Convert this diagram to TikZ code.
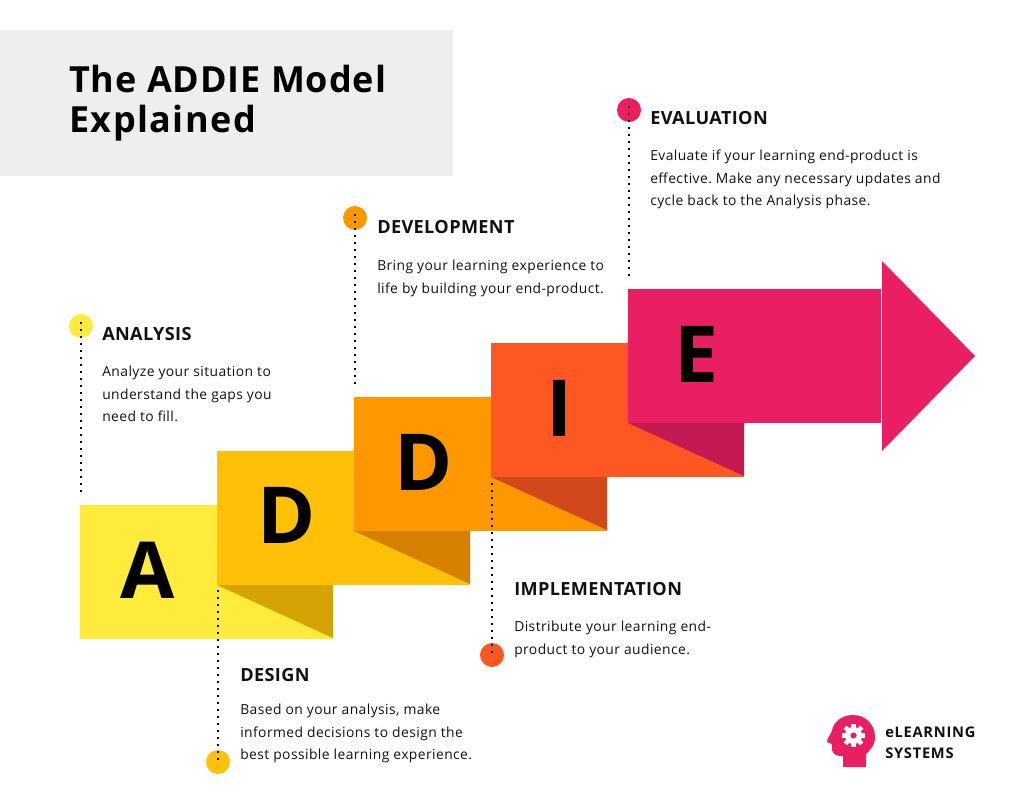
\documentclass[tikz,border=0pt]{standalone}
\usepackage{fontspec}
\setmainfont{Open Sans}
\newfontfamily\bodyfont[LetterSpace=3]{Open Sans}
\newfontfamily\headfont[LetterSpace=2,BoldFont={Open Sans Bold}]{Open Sans}
\newfontfamily\titleA[LetterSpace=2.5]{Open Sans}
\newfontfamily\titleB[LetterSpace=4]{Open Sans}
\newfontfamily\logofont[LetterSpace=5]{Open Sans}
\definecolor{cA}{HTML}{FFEB3B}
\definecolor{cD}{HTML}{FFC107}
\definecolor{cDD}{HTML}{FF9800}
\definecolor{cI}{HTML}{FF5722}
\definecolor{cE}{HTML}{E91E63}
\definecolor{fA}{HTML}{D6A304}
\definecolor{fD}{HTML}{D68000}
\definecolor{fI}{HTML}{D2481D}
\definecolor{fE}{HTML}{C41A53}
\definecolor{ink}{HTML}{111111}
\definecolor{panel}{HTML}{EEEEEE}
\tikzset{
  x=0.75pt,y=-0.75pt,
  block/.style={minimum width=189.75pt,minimum height=100.5pt,inner sep=0,outer sep=0,anchor=north west},
  bigletter/.style={font=\fontsize{59}{59}\selectfont\bfseries,text=black,inner sep=0,anchor=base},
  head/.style={font=\headfont\fontsize{13.6}{16}\selectfont\bfseries,text=ink,inner sep=0,anchor=base west},
  body/.style={font=\bodyfont\frenchspacing\fontsize{10.4}{16.9}\selectfont,text=ink,inner sep=0,anchor=north west,align=left},
  dot/.style={circle,minimum size=18pt,inner sep=0},
  dotted line/.style={line width=1.5pt,black,dash pattern=on 1.5pt off 3.75pt},
  titletext/.style={font=#1\fontsize{27}{30}\selectfont\bfseries,text=black,inner sep=0,anchor=base west},
}
\begin{document}
\begin{tikzpicture}
\useasboundingbox (0,0) rectangle (1034,792);
\fill[white] (0,0) rectangle (1034,792);
\node[fill=panel,minimum width=339.75pt,minimum height=109.5pt,inner sep=0,anchor=north west] (panel) at (0,30) {};
\node[titletext=\titleA] (t1) at (69,92) {The ADDIE Model};
\node[titletext=\titleB] (t2) at (69,132) {Explained};
% blocks
\node[block,fill=cA] (bA) at (80,505) {};
\node[block,fill=cD] (bD) at (217,451) {};
\fill[fA] (217,585) -- (333,585) -- (333,638) -- cycle;
\node[block,fill=cDD] (bDD) at (354,397) {};
\fill[fD] (354,531) -- (470,531) -- (470,584) -- cycle;
\node[block,fill=cI] (bI) at (491,343) {};
\fill[fI] (491,477) -- (607,477) -- (607,530) -- cycle;
\node[block,fill=cE] (bE) at (628,289) {};
\fill[fE] (628,423) -- (744,423) -- (744,476) -- cycle;
\fill[cE] (882,261) -- (975,356) -- (882,451) -- cycle;
\node[bigletter] (lA) at (148,598) {A};
\node[bigletter] (lD) at (287,543) {D};
\node[bigletter] (lDD) at (424,490) {D};
\node[bigletter] (lI) at (560,436) {I};
\node[bigletter] (lE) at (697,382) {E};
% markers
\node[dot,fill=cA] (mA) at (81,326) {};
\node[dot,fill=cD] (mD) at (218,762) {};
\node[dot,fill=cDD] (mDD) at (355,218) {};
\node[dot,fill=cI] (mI) at (492,655) {};
\node[dot,fill=cE] (mE) at (629,110) {};
\coordinate (eA) at (81,493);
\coordinate (eD) at (218,588);
\coordinate (eDD) at (355,385);
\coordinate (eI) at (492,480);
\coordinate (eE) at (629,277);
\draw[dotted line] (mA.center) ++(0,-4) -- (eA);
\draw[dotted line] (mD.center) ++(0,-2) -- (eD);
\draw[dotted line] (mDD.center) ++(0,-4) -- (eDD);
\draw[dotted line] (mI.center) ++(0,-2) -- (eI);
\draw[dotted line] (mE.center) ++(0,-4) -- (eE);
% text
\node[head] (hA) at (102,340) {ANALYSIS};
\node[body] (tA) at (102,366) {Analyze your situation to\\understand the gaps you\\need to fill.};
\node[head] (hD) at (240,681) {DESIGN};
\node[body] (tD) at (240,704) {Based on your analysis, make\\informed decisions to design the\\best possible learning experience.};
\node[head] (hDD) at (377,233) {DEVELOPMENT};
\node[body] (tDD) at (377,260) {Bring your learning experience to\\life by building your end-product.};
\node[head] (hI) at (514,595) {IMPLEMENTATION};
\node[body] (tI) at (514,621) {Distribute your learning end-\\product to your audience.};
\node[head] (hE) at (650,124) {EVALUATION};
\node[body] (tE) at (650,150) {Evaluate if your learning end-product is\\effective. Make any necessary updates and\\cycle back to the Analysis phase.};
% logo
\fill[cE] (843,767) -- (843,756) .. controls (838,756) and (833,755) .. (832,750) -- (832,744) -- (827,742) .. controls (827,739) and (830,735) .. (832,731) .. controls (833,722) and (842,715) .. (853,715) .. controls (866,715) and (875,725) .. (875,737) .. controls (875,746) and (870,750) .. (866,754) -- (866,767) -- cycle;
\foreach \a in {0,45,...,315}{\fill[white,rotate around={\a:(853.5,735.5)}] (851.3,723.8) rectangle (855.7,730);}
\fill[white,even odd rule] (853.5,735.5) circle (8.6) (853.5,735.5) circle (3.2);
\node[font=\logofont\fontsize{11}{15.8}\selectfont\bfseries,text=ink,inner sep=0,anchor=north west,align=left] (logo) at (885,726.5) {eLEARNING\\SYSTEMS};
\end{tikzpicture}
\end{document}
